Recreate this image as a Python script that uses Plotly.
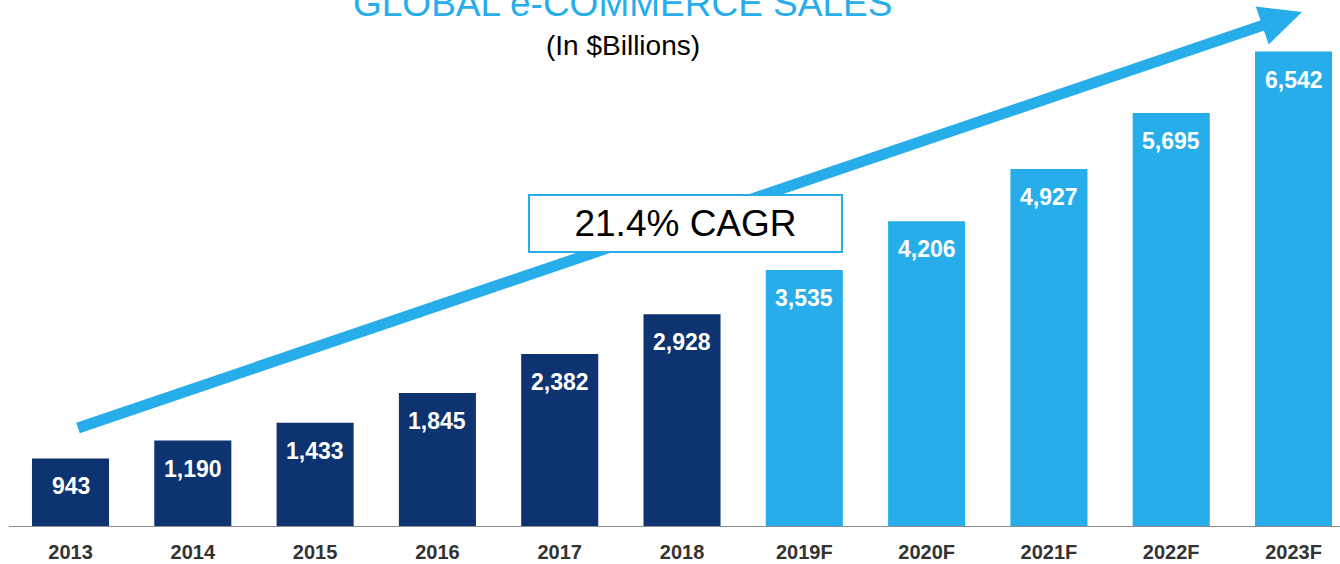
import plotly.graph_objects as go

categories = ["2013", "2014", "2015", "2016", "2017", "2018",
              "2019F", "2020F", "2021F", "2022F", "2023F"]
values = [943, 1190, 1433, 1845, 2382, 2928, 3535, 4206, 4927, 5695, 6542]
labels = ["943", "1,190", "1,433", "1,845", "2,382", "2,928",
          "3,535", "4,206", "4,927", "5,695", "6,542"]
is_forecast = [False] * 6 + [True] * 5

title_text = "GLOBAL e-COMMERCE SALES"
subtitle_text = "(In $Billions)"
cagr_text = "21.4% CAGR"

DARK = "#0d3370"
LIGHT = "#27aeea"
FONT = "Arial, Liberation Sans, sans-serif"

W, H = 1340, 564
MB = 37
PH = H - MB  # plot height in px

def px(x):
    return x / W

def py(y):
    return (PH - y) / PH

colors = [LIGHT if f else DARK for f in is_forecast]

fig = go.Figure()
fig.add_trace(go.Bar(
    x=list(range(len(categories))), y=values,
    marker=dict(color=colors, line=dict(width=0)),
    width=0.63, hoverinfo="skip",
))

annotations = []
for i, (v, t) in enumerate(zip(values, labels)):
    annotations.append(dict(
        x=i, y=v, xref="x", yref="y", text=t, showarrow=False,
        yanchor="middle", yshift=-28,
        font=dict(family=FONT, size=23, color="white", weight="bold"),
    ))

# titles
annotations.append(dict(
    x=px(622), y=py(3), xref="paper", yref="paper", text=title_text,
    showarrow=False, xanchor="center", yanchor="middle",
    font=dict(family=FONT, size=37, color=LIGHT),
))
annotations.append(dict(
    x=px(623), y=py(45), xref="paper", yref="paper", text=subtitle_text,
    showarrow=False, xanchor="center", yanchor="middle",
    font=dict(family=FONT, size=28, color="black"),
))
# CAGR box
annotations.append(dict(
    x=px(685.5), y=py(223.5), xref="paper", yref="paper", text=cagr_text,
    showarrow=False, xanchor="center", yanchor="middle",
    width=311, height=55, borderpad=0, borderwidth=2,
    bordercolor=LIGHT, bgcolor="white",
    font=dict(family=FONT, size=37, color="black"),
))

# arrow geometry (pixels)
sx, sy = 78, 428
tx, ty = 1302, 12
dx, dy = tx - sx, ty - sy
L = (dx ** 2 + dy ** 2) ** 0.5
ux, uy = dx / L, dy / L
nx, ny = -uy, ux
head_len, head_half = 42, 20
bx, by = tx - head_len * ux, ty - head_len * uy
c1 = (bx + head_half * nx, by + head_half * ny)
c2 = (bx - head_half * nx, by - head_half * ny)

shapes = [
    dict(type="line", xref="paper", yref="paper",
         x0=px(sx), y0=py(sy), x1=px(bx + 2 * ux), y1=py(by + 2 * uy),
         line=dict(color=LIGHT, width=11), layer="below"),
    dict(type="path", xref="paper", yref="paper",
         path=f"M {px(tx)} {py(ty)} L {px(c1[0])} {py(c1[1])} L {px(c2[0])} {py(c2[1])} Z",
         fillcolor=LIGHT, line=dict(width=0), layer="below"),
    dict(type="line", xref="paper", yref="y",
         x0=px(9), x1=1, y0=0, y1=0,
         line=dict(color="#8c8c8c", width=2)),
]

fig.update_layout(
    width=W, height=H,
    margin=dict(l=0, r=0, t=0, b=MB),
    paper_bgcolor="white", plot_bgcolor="white",
    showlegend=False,
    annotations=annotations,
    shapes=shapes,
    xaxis=dict(
        range=[-0.5765, 10.380],
        tickmode="array", tickvals=list(range(len(categories))),
        ticktext=categories,
        tickfont=dict(family=FONT, size=20, color="#333333", weight="bold"),
        ticks="outside", ticklen=7, tickcolor="rgba(0,0,0,0)",
        showgrid=False, zeroline=False, showline=False,
    ),
    yaxis=dict(range=[0, 527 * 13.76], visible=False, showgrid=False),
)

fig.write_html(
    "out.html",
    config={"displayModeBar": False},
    post_script="document.body.style.margin='0';document.body.style.padding='0';document.body.style.overflow='hidden';",
)
